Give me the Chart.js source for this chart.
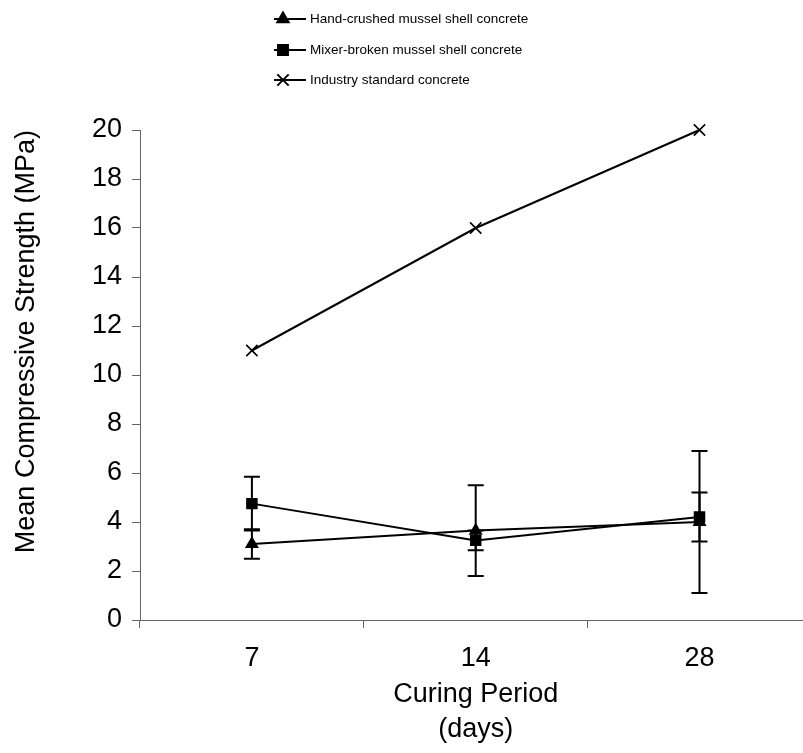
<!DOCTYPE html>
<html>
<head>
<meta charset="utf-8">
<script src="https://cdn.jsdelivr.net/npm/chart.js@4/dist/chart.umd.min.js"></script>
<style>
  html, body { margin: 0; padding: 0; background: #fff; overflow: hidden; }
  canvas { display: block; }
</style>
</head>
<body>
<canvas id="c" width="803" height="753"></canvas>
<script>
// ---- data ----
const categories = ['7', '14', '28'];
const seriesNames = [
  'Hand-crushed mussel shell concrete',
  'Mixer-broken mussel shell concrete',
  'Industry standard concrete'
];
const handMeans = [3.1, 3.65, 4.0];
const handErrors = [0.6, 1.85, 2.9];
const mixerMeans = [4.75, 3.25, 4.2];
const mixerErrors = [1.1, 0.4, 1.0];
const industryMeans = [11, 16, 20];
const yMin = 0, yMax = 20, yStep = 2;

const FONT = '"Liberation Sans", Arial, Helvetica, sans-serif';

// the reference's x axis runs a few pixels past the right edge of the picture
const extendXPlugin = {
  id: 'extendX',
  afterLayout(chart) {
    const xs = chart.scales.x;
    const extra = 18;
    xs.right += extra;
    xs.width += extra;
    chart.chartArea.right += extra;
    chart.chartArea.width += extra;
    xs.configure();
  }
};

const errorBarPlugin = {
  id: 'errorBars',
  afterDatasetsDraw(chart) {
    const ctx = chart.ctx;
    const ys = chart.scales.y;
    chart.data.datasets.forEach((ds, di) => {
      if (!ds.errors) return;
      const meta = chart.getDatasetMeta(di);
      ctx.save();
      ctx.strokeStyle = '#000';
      ctx.lineWidth = 2;
      meta.data.forEach((pt, i) => {
        const v = ds.data[i], e = ds.errors[i];
        const x = pt.x;
        const yt = ys.getPixelForValue(v + e);
        const yb = ys.getPixelForValue(v - e);
        ctx.beginPath();
        ctx.moveTo(x, yt); ctx.lineTo(x, yb);
        ctx.moveTo(x - 8, yt); ctx.lineTo(x + 8, yt);
        ctx.moveTo(x - 8, yb); ctx.lineTo(x + 8, yb);
        ctx.stroke();
      });
      ctx.restore();
    });
  }
};

const legendPlugin = {
  id: 'customLegend',
  afterDraw(chart) {
    const ctx = chart.ctx;
    const rows = [19, 50, 80];
    ctx.save();
    chart.data.datasets.forEach((ds, i) => {
      const y = rows[i];
      ctx.strokeStyle = '#000';
      ctx.lineWidth = 2;
      ctx.beginPath();
      ctx.moveTo(274, y); ctx.lineTo(306, y);
      ctx.stroke();
      Chart.helpers.drawPoint(ctx, {
        pointStyle: ds.pointStyle, radius: ds.pointRadius, rotation: 0,
        borderWidth: ds.pointBorderWidth
      }, 283, y);
      ctx.fillStyle = '#000';
      ctx.font = '13.5px ' + FONT;
      ctx.textBaseline = 'middle';
      ctx.textAlign = 'left';
      ctx.fillText(ds.label, 310, y);
    });
    ctx.restore();
  }
};

const mk = (label, data, style, radius, errors) => ({
  label, data, errors,
  borderColor: '#000', backgroundColor: '#000', borderWidth: 2,
  pointStyle: style, pointRadius: radius, pointHoverRadius: radius,
  pointBackgroundColor: '#000', pointBorderColor: '#000', pointBorderWidth: 1.6,
  tension: 0, fill: false, clip: false
});

new Chart(document.getElementById('c'), {
  type: 'line',
  data: {
    labels: categories,
    datasets: [
      mk(seriesNames[0], handMeans, 'triangle', 6.5, handErrors),
      mk(seriesNames[1], mixerMeans, 'rect', 7, mixerErrors),
      mk(seriesNames[2], industryMeans, 'crossRot', 8, null)
    ]
  },
  options: {
    responsive: false,
    animation: false,
    layout: { padding: { top: 130, left: 0, right: 0, bottom: 0 } },
    plugins: { legend: { display: false }, tooltip: { enabled: false } },
    scales: {
      x: {
        type: 'category',
        offset: true,
        afterFit: s => { s.height = 133; },
        grid: { offset: true, drawOnChartArea: false, tickLength: 8, color: '#666', lineWidth: 1 },
        border: { color: '#666', width: 1 },
        ticks: { color: '#000', font: { family: FONT, size: 27 }, padding: 14, maxRotation: 0, autoSkip: false },
        title: {
          display: true, text: ['Curing Period', '(days)'], color: '#000',
          font: { family: FONT, size: 27, lineHeight: 1.33 }, padding: { top: 0, bottom: 5 }
        }
      },
      y: {
        min: yMin, max: yMax,
        afterFit: s => { s.width = 140; },
        grid: { drawOnChartArea: false, tickLength: 8, color: '#666', lineWidth: 1 },
        border: { color: '#666', width: 1 },
        ticks: { stepSize: yStep, color: '#000', font: { family: FONT, size: 27, lineHeight: 0.8 }, padding: 10, autoSkip: false },
        title: {
          display: true, text: 'Mean Compressive Strength (MPa)', color: '#000', align: 'end',
          font: { family: FONT, size: 27 }, padding: { top: 10, bottom: 0 }
        }
      }
    }
  },
  plugins: [extendXPlugin, errorBarPlugin, legendPlugin]
});
</script>
</body>
</html>
